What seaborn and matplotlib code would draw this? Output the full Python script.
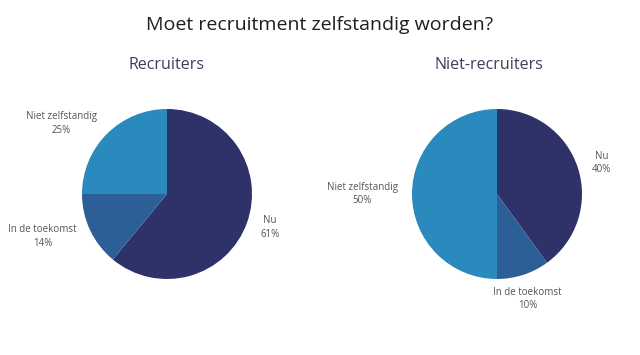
"""Pie charts: Moet recruitment zelfstandig worden?"""
import matplotlib
matplotlib.use("Agg")
import matplotlib.pyplot as plt
import seaborn as sns

categories = ["Nu", "In de toekomst", "Niet zelfstandig"]
recruiters = [61, 14, 25]
niet_recruiters = [40, 10, 50]
groups = ["Recruiters", "Niet-recruiters"]

sns.set_style("white")
plt.rcParams["font.family"] = ["Open Sans", "DejaVu Sans"]

colors = ["#2f3268", "#2c5f98", "#2a8abd"]

W, H = 640, 355
R = 85  # pie radius in pixels
fig = plt.figure(figsize=(W / 100, H / 100), dpi=100)

# pie centres (pixels from top-left) and subtitle x
centres = [(167, 194), (497, 194)]
sub_x = [167, 489]

for (cx, cy), sx, title, values in zip(centres, sub_x, groups, [recruiters, niet_recruiters]):
    half_w, half_h = 1.9, 1.5
    ax = fig.add_axes([
        (cx - half_w * R) / W,
        (H - cy - half_h * R) / H,
        2 * half_w * R / W,
        2 * half_h * R / H,
    ])
    ax.patch.set_visible(False)
    labels = [f"{c}\n{v}%" for c, v in zip(categories, values)]
    wedges, texts = ax.pie(
        values,
        labels=labels,
        colors=colors,
        startangle=90,
        counterclock=False,
        labeldistance=1.17,
        radius=1.0,
        wedgeprops={"linewidth": 0, "antialiased": True},
        textprops={"fontsize": 7, "color": "#555555", "multialignment": "center",
                   "linespacing": 1.3},
    )
    for t in texts:
        x, y = t.get_position()
        if abs(x) < 0.5:
            t.set_ha("center")
            t.set_position((x, y - 0.12 if y < 0 else y + 0.12))
    ax.set_xlim(-half_w, half_w)
    ax.set_ylim(-half_h, half_h)
    ax.set_aspect("equal")
    fig.text(sx / W, 1 - 65 / H, title, fontsize=11.5, color="#3a3f5c",
             ha="center", va="center")

fig.text(0.5, 1 - 25 / H, "Moet recruitment zelfstandig worden?", fontsize=14,
         color="#1e1e1e", ha="center", va="center")

plt.savefig("out.png", dpi=100)
